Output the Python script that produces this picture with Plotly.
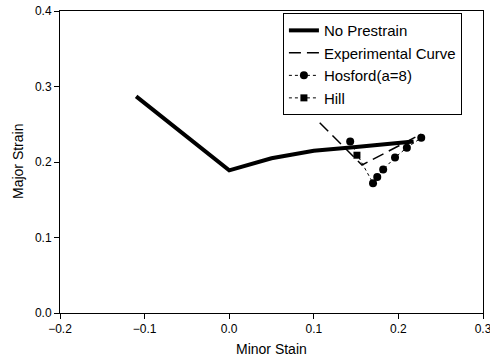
import plotly.graph_objects as go

# No Prestrain FLC
np_x = [-0.11, 0.0, 0.05, 0.10, 0.15, 0.20, 0.218]
np_y = [0.287, 0.189, 0.205, 0.215, 0.220, 0.225, 0.227]

# Experimental curve
exp_x = [0.107, 0.157, 0.227]
exp_y = [0.252, 0.196, 0.237]

# Hosford (a=8)
hos_x = [0.143, 0.170, 0.175, 0.182, 0.196, 0.210, 0.227]
hos_y = [0.227, 0.172, 0.180, 0.190, 0.206, 0.219, 0.232]

# Hill
hill_x = [0.151]
hill_y = [0.209]

x_ticks = [-0.2, -0.1, 0.0, 0.1, 0.2, 0.3]
y_ticks = [0.0, 0.1, 0.2, 0.3, 0.4]

x_title = "Minor Stain"
y_title = "Major Strain"

FONT = "Liberation Sans, Arial, sans-serif"

fig = go.Figure()
fig.add_trace(go.Scatter(x=np_x, y=np_y, mode="lines", name="No Prestrain",
                         line=dict(color="black", width=4)))
fig.add_trace(go.Scatter(x=exp_x, y=exp_y, mode="lines", name="Experimental Curve",
                         line=dict(color="black", width=1.5, dash="12px,6px")))
fig.add_trace(go.Scatter(x=hos_x, y=hos_y, mode="lines+markers", name="Hosford(a=8)",
                         line=dict(color="black", width=1, dash="dot"),
                         marker=dict(symbol="circle", size=8, color="black")))
fig.add_trace(go.Scatter(x=hill_x, y=hill_y, mode="lines+markers", name="Hill",
                         line=dict(color="black", width=1, dash="dot"),
                         marker=dict(symbol="square", size=7, color="black")))

fig.update_layout(
    width=490, height=359,
    margin=dict(l=60, r=7, t=11, b=46),
    paper_bgcolor="white", plot_bgcolor="white",
    font=dict(family=FONT, color="black", size=12),
    showlegend=True,
    legend=dict(x=0.527, y=0.993, xanchor="left", yanchor="top",
                bordercolor="black", borderwidth=1, bgcolor="white",
                font=dict(size=15, family=FONT), tracegroupgap=0,
                itemwidth=30),
    xaxis=dict(range=[-0.2, 0.3], tickvals=x_ticks, tickformat=".1f",
               showgrid=False, zeroline=False, showline=True, linecolor="black",
               linewidth=1, mirror=True, ticks="outside", ticklen=5, tickcolor="black",
               automargin=False, tickfont=dict(size=12), ticklabeloverflow="allow"),
    yaxis=dict(range=[0.0, 0.4], tickvals=y_ticks, tickformat=".1f",
               showgrid=False, zeroline=False, showline=True, linecolor="black",
               linewidth=1, mirror=True, ticks="outside", ticklen=5, tickcolor="black",
               automargin=False, tickfont=dict(size=12), ticklabeloverflow="allow"),
    annotations=[
        dict(text=x_title, xref="paper", yref="paper", x=0.5, y=0,
             xanchor="center", yanchor="middle", yshift=-36, showarrow=False,
             font=dict(size=14, family=FONT)),
        dict(text=y_title, xref="paper", yref="paper", x=0, y=0.5,
             xanchor="center", yanchor="middle", xshift=-42, textangle=-90,
             showarrow=False, font=dict(size=14, family=FONT)),
    ],
)

fig.write_html("out.html", config={"displayModeBar": False},
               post_script="document.body.style.margin='0';")
